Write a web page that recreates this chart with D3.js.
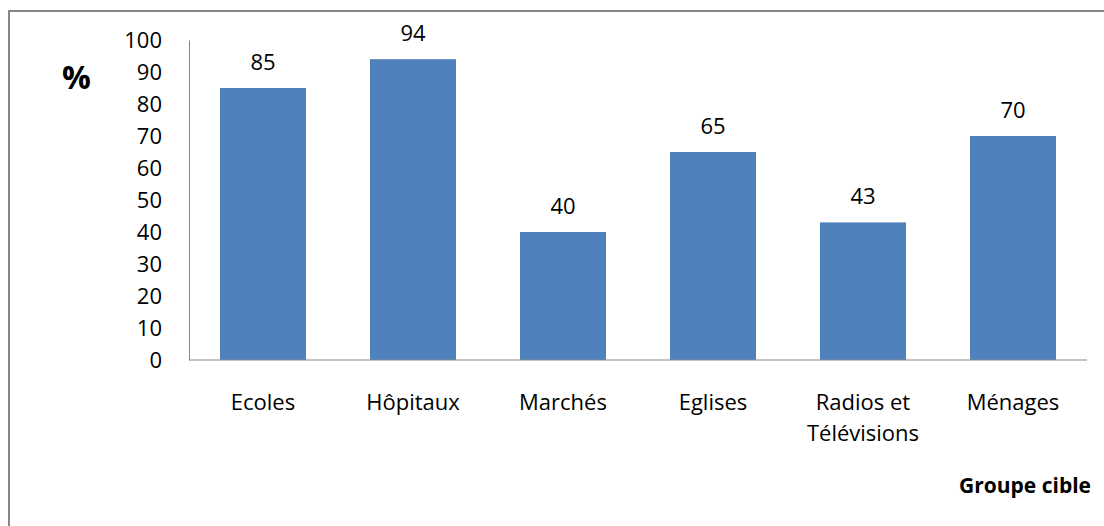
<!DOCTYPE html>
<html><head><meta charset="utf-8">
<script src="https://cdn.jsdelivr.net/npm/d3@7"></script>
<style>
body{margin:0;background:#fff;}
text{font-family:"Open Sans",sans-serif;fill:#000;}
</style></head>
<body>
<svg id="c" width="1104" height="526"></svg>
<script>
const categories = ["Ecoles","Hôpitaux","Marchés","Eglises","Radios et\nTélévisions","Ménages"];
const values = [85,94,40,65,43,70];
const yTicks = [0,10,20,30,40,50,60,70,80,90,100];

const svg = d3.select("#c");
svg.append("rect").attr("x",9).attr("y",11).attr("width",1110).attr("height",540)
  .attr("fill","#fff").attr("stroke","#868686").attr("stroke-width",2);

const pLeft=189, pRight=1087, pTop=40, pBottom=360;
const x = d3.scaleBand().domain(categories).range([pLeft,pRight]).paddingInner(64/150).paddingOuter(31/150);
const y = d3.scaleLinear().domain([0,100]).range([pBottom,pTop]);

svg.selectAll("rect.bar").data(values).join("rect").attr("class","bar")
  .attr("x",(d,i)=>x(categories[i])).attr("width",x.bandwidth())
  .attr("y",d=>y(d)).attr("height",d=>y(0)-y(d)).attr("fill","#4F81BD");

const yAxis = svg.append("g").attr("transform",`translate(${pLeft},0)`)
  .call(d3.axisLeft(y).tickValues(yTicks).tickSize(0).tickPadding(27));
yAxis.select(".domain").attr("stroke","#868686");
yAxis.selectAll("text").attr("font-size",22).attr("font-family","Open Sans").attr("dy","0.35em").attr("fill","#000");

svg.append("line").attr("x1",pLeft).attr("x2",pRight).attr("y1",pBottom).attr("y2",pBottom)
  .attr("stroke","#868686");

svg.selectAll("text.val").data(values).join("text").attr("class","val")
  .attr("x",(d,i)=>x(categories[i])+x.bandwidth()/2).attr("y",d=>y(d)-18)
  .attr("text-anchor","middle").attr("font-size",22).text(d=>d);

categories.forEach(c=>{
  const t = svg.append("text").attr("text-anchor","middle").attr("font-size",22)
    .attr("x",x(c)+x.bandwidth()/2).attr("y",410);
  c.split("\n").forEach((l,i)=>t.append("tspan").attr("x",x(c)+x.bandwidth()/2).attr("y",410+i*31).text(l));
});

svg.append("text").attr("x",62).attr("y",89).attr("font-size",32).attr("font-weight","bold").text("%");
svg.append("text").attr("x",1091).attr("y",493).attr("text-anchor","end").attr("font-size",21).attr("font-weight","bold").text("Groupe cible");
</script>
</body></html>
